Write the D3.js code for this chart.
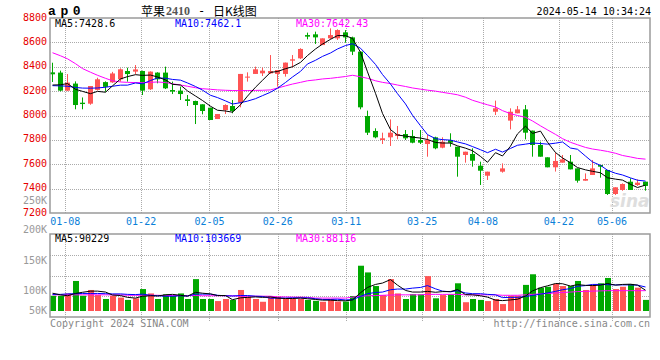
<!DOCTYPE html>
<html><head><meta charset="utf-8">
<script src="https://cdn.jsdelivr.net/npm/d3@7"></script>
<style>body{margin:0;background:#fff}svg{display:block}</style>
</head><body><svg id="c" width="660" height="360"></svg>
<script>
// ---------- data ----------
const symbol = "ap0";
const titleParts = ["苹果", "2410", "-", "日K线图"];
const stamp = "2024-05-14 10:34:24";
const priceTicks = [8800,8600,8400,8200,8000,7800,7600,7400,7200];
const volTickValues = [250000,200000,150000,100000,50000];
const volTickLabels = ["250K","200K","150K","100K","50K"];
const dateTicks = ["01-08","01-22","02-05","02-26","03-11","03-25","04-08","04-22","05-06"];
const dateTickIndex = [2,12,21,30,39,49,57,67,74];

const open = [8354,8352,8204,8262,8105,8097,8210,8274,8272,8297,
 8365,8360,8365,8215,8352,8352,8209,8204,8133,8119,
 8092,8064,7971,8045,8078,8105,8316,8341,8346,8346,
 8341,8341,8450,8469,8660,8666,8578,8633,8633,8682,
 8641,8524,7996,7873,7799,7821,7832,7848,7832,7799,
 7766,7821,7736,7799,7744,7676,7684,7588,7506,8031,
 7539,7958,8018,8050,7876,7758,7657,7575,7613,7621,
 7566,7465,7512,7594,7553,7356,7389,7457,7430,7457];
const high = [8433,8368,8340,8280,8148,8242,8310,8280,8358,8387,
 8392,8414,8368,8362,8355,8401,8278,8237,8168,8122,
 8092,8064,8012,8092,8127,8341,8354,8401,8393,8496,
 8373,8434,8496,8552,8680,8688,8633,8715,8707,8701,
 8647,8524,8040,7895,7859,7968,7914,7881,7881,7881,
 7840,7826,7821,7854,7744,7703,7731,7621,7539,8122,
 7607,8059,8078,8086,7876,7785,7657,7695,7676,7676,
 7566,7525,7635,7594,7553,7411,7443,7485,7476,7457];
const low = [8275,8198,8200,8051,8051,8088,8205,8195,8268,8278,
 8278,8338,8168,8210,8264,8217,8176,8127,8078,7930,
 8010,7963,7971,8012,8018,8067,8278,8341,8324,8341,
 8237,8319,8395,8463,8625,8587,8578,8625,8620,8597,
 8496,8051,7840,7813,7766,7750,7805,7799,7772,7766,
 7662,7723,7731,7744,7498,7613,7580,7430,7471,8004,
 7531,7886,8018,7804,7662,7662,7575,7540,7613,7558,
 7449,7465,7512,7490,7348,7348,7383,7389,7422,7383];
const close = [8338,8204,8270,8086,8094,8242,8297,8235,8345,8379,
 8340,8378,8204,8360,8297,8223,8196,8176,8119,8086,
 8037,7963,8012,8086,8037,8341,8319,8379,8368,8365,
 8373,8434,8461,8546,8647,8641,8633,8660,8701,8641,
 8524,8067,7859,7821,7813,7859,7848,7813,7777,7777,
 7799,7731,7785,7777,7662,7703,7629,7547,7539,8059,
 7566,8031,8050,7859,7758,7662,7575,7627,7640,7558,
 7465,7479,7566,7580,7356,7411,7438,7389,7449,7422];
const volume = [66,66,76,130,66,91,69,52,66,58,
 48,55,95,76,52,72,66,76,52,138,
 52,52,43,52,48,91,62,52,40,62,
 62,52,52,52,48,44,40,52,41,41,
 65,196,167,108,69,138,76,52,73,72,
 151,55,69,72,120,38,52,48,43,52,
 30,66,66,113,159,101,105,117,108,108,
 130,91,113,120,143,95,105,117,101,48].map(v => v * 1000);

const ma5 = [8250,8252,8262,8215,8198,8179,8198,8191,8243,8300,
 8319,8335,8329,8332,8316,8292,8256,8250,8202,8160,
 8123,8076,8043,8037,8027,8088,8159,8232,8289,8354,
 8361,8384,8400,8436,8492,8546,8586,8625,8656,8655,
 8632,8519,8358,8182,8017,7884,7840,7831,7822,7815,
 7803,7779,7774,7774,7751,7732,7711,7664,7616,7695,
 7668,7748,7849,7913,7853,7872,7781,7696,7652,7612,
 7573,7554,7542,7530,7489,7478,7470,7435,7409,7429];
const ma10 = [8245,8243,8240,8230,8225,8224,8226,8232,8240,8249,
 8249,8267,8260,8287,8308,8306,8296,8290,8267,8238,
 8208,8166,8147,8120,8094,8105,8118,8138,8163,8191,
 8224,8271,8316,8362,8423,8453,8485,8513,8546,8574,
 8589,8552,8492,8419,8336,8258,8179,8095,8002,7916,
 7843,7810,7802,7798,7783,7767,7745,7719,7695,7723,
 7700,7730,7756,7765,7774,7770,7765,7773,7783,7733,
 7723,7667,7619,7591,7551,7526,7512,7488,7469,7462];
const ma30 = [8515,8490,8465,8425,8385,8355,8330,8305,8285,8275,
 8272,8270,8270,8272,8275,8270,8260,8250,8240,8228,
 8220,8215,8210,8207,8205,8204,8205,8206,8207,8210,
 8225,8243,8258,8272,8285,8292,8300,8305,8312,8320,
 8330,8318,8305,8285,8272,8262,8250,8238,8226,8216,
 8208,8200,8190,8180,8170,8150,8125,8105,8088,8070,
 8040,8015,8000,7985,7955,7915,7882,7845,7810,7780,
 7760,7738,7725,7715,7705,7690,7672,7660,7648,7642];
const volMa5 = [77,70,66,76,81,86,86,82,69,67,
 59,56,64,66,65,70,72,68,64,81,
 77,74,67,67,49,57,59,61,59,61,
 56,54,54,56,53,50,47,47,45,44,
 48,79,102,115,121,136,112,89,82,82,
 85,81,84,84,93,71,70,66,60,47,
 45,48,51,65,87,101,109,119,118,108,
 114,111,110,112,119,112,115,116,112,90].map(v => v * 1000);
const volMa10 = [72,72,74,75,76,76,76,75,74,74,
 72,71,73,68,66,64,64,66,65,73,
 73,73,68,66,65,67,67,64,63,55,
 56,56,57,57,57,53,50,50,51,48,
 49,63,75,80,82,92,95,95,99,102,
 110,96,86,83,88,78,75,75,72,70,
 58,59,59,63,67,73,78,85,92,97,
 107,110,115,115,114,113,113,113,112,104].map(v => v * 1000);
const volMa30 = [70,70,70,70,70,70,70,70,70,70,
 68,68,68,68,68,67,67,67,67,67,
 66,66,66,66,66,64,64,64,64,64,
 61,61,60,60,59,56,56,56,56,56,
 60,64,66,67,68,69,70,70,70,70,
 72,72,72,72,72,70,70,70,70,70,
 68,68,68,70,72,74,76,78,80,82,
 84,85,86,87,88,88,88,88,88,88].map(v => v * 1000);

const legendMain = [["MA5:7428.6","#000"],["MA10:7462.1","#0000ff"],["MA30:7642.43","#ff00ff"]];
const legendVol = [["MA5:90229","#000"],["MA10:103669","#0000ff"],["MA30:88116","#ff00ff"]];
const footerLeft = "Copyright 2024 SINA.COM";
const footerRight = "http://finance.sina.com.cn";

// ---------- layout ----------
const L = 50, R = 650, mTop = 18, mBot = 213, vTop = 234, vBot = 317, vBase = 311;
const mono = "'DejaVu Sans Mono', monospace";
const UP = "#ff5454", DOWN = "#00a800", GRID = "#aaaaaa", FRAME = "#9a9a9a";
const n = close.length;

const svg = d3.select("#c");
svg.append("rect").attr("width",660).attr("height",360).attr("fill","#fff");

const x = d3.scaleBand().domain(d3.range(n)).range([L, R]);
const xt = d3.scaleLinear().domain([0, n - 1]).range([L, R]);
const y = d3.scaleLinear().domain([7200, 8800]).range([mBot, mTop]);
const yv = d3.scaleLinear().domain([0, 100000]).range([vBase, 287.9]);
const yvLab = d3.scaleLinear().domain(volTickValues).range([200, 229.3, 260.8, 290.8, 310.8]);
const cx = i => Math.round(x(i)) + 2.5;

const defs = svg.append("defs");
defs.append("clipPath").attr("id","cm").append("rect").attr("x",L).attr("y",mTop).attr("width",R-L).attr("height",mBot-mTop);
defs.append("clipPath").attr("id","cv").append("rect").attr("x",L).attr("y",vTop).attr("width",R-L).attr("height",vBot-vTop);

// ---------- grid ----------
const grid = svg.append("g").attr("stroke", GRID).attr("stroke-dasharray","1,1").attr("stroke-width",1);
priceTicks.slice(1, -1).forEach(v => {
  const yy = Math.round(y(v)) + 0.5;
  grid.append("line").attr("x1",L).attr("x2",R).attr("y1",yy).attr("y2",yy);
});
d3.range(1,4).forEach(j => {
  const yy = Math.round(vTop + (vBot - vTop) * j / 4) + 0.5;
  grid.append("line").attr("x1",L).attr("x2",R).attr("y1",yy).attr("y2",yy);
});
dateTickIndex.forEach(k => {
  const xx = Math.round(xt(k)) + 0.5;
  grid.append("line").attr("x1",xx).attr("x2",xx).attr("y1",mTop).attr("y2",mBot);
  grid.append("line").attr("x1",xx).attr("x2",xx).attr("y1",vTop).attr("y2",vBot + 5);
});

// sina watermark
svg.append("text").attr("x",610).attr("y",207).attr("font-family","'DejaVu Sans', sans-serif")
  .attr("font-style","italic").attr("font-weight","bold").attr("font-size",17)
  .attr("fill","#dedede").text("sina");

// ---------- candles ----------
const gc = svg.append("g").attr("clip-path","url(#cm)");
d3.range(n).forEach(i => {
  const col = close[i] >= open[i] ? UP : DOWN;
  gc.append("line").attr("x1",cx(i)).attr("x2",cx(i))
    .attr("y1",y(high[i])).attr("y2",y(low[i])).attr("stroke",col).attr("stroke-width",1);
  const top = y(Math.max(open[i], close[i])), bot = y(Math.min(open[i], close[i]));
  gc.append("rect").attr("x",Math.round(x(i))).attr("width",5)
    .attr("y",top).attr("height",Math.max(1, bot - top)).attr("fill",col);
});

// ---------- MA lines (price) ----------
const lineP = d3.line().x((d,i) => cx(i)).y(d => y(d));
[[ma30,"#ff00ff"],[ma10,"#0000ff"],[ma5,"#000"]].forEach(([arr,col]) => {
  gc.append("path").attr("d", lineP(arr)).attr("fill","none").attr("stroke",col).attr("stroke-width",1);
});

// ---------- volume ----------
const gv = svg.append("g").attr("clip-path","url(#cv)");
d3.range(n).forEach(i => {
  const col = close[i] >= open[i] ? UP : DOWN;
  gv.append("rect").attr("x",Math.round(x(i))).attr("width",6)
    .attr("y",yv(volume[i])).attr("height",vBase - yv(volume[i])).attr("fill",col);
});
const lineV = d3.line().x((d,i) => cx(i)).y(d => yv(d));
[[volMa30,"#ff00ff"],[volMa10,"#0000ff"],[volMa5,"#000"]].forEach(([arr,col]) => {
  gv.append("path").attr("d", lineV(arr)).attr("fill","none").attr("stroke",col).attr("stroke-width",1);
});

// ---------- frames ----------
svg.append("rect").attr("x",L).attr("y",mTop).attr("width",R-L).attr("height",mBot-mTop)
  .attr("fill","none").attr("stroke",FRAME).attr("stroke-width",1.5);
svg.append("rect").attr("x",L).attr("y",vTop).attr("width",R-L).attr("height",vBot-vTop)
  .attr("fill","none").attr("stroke",FRAME).attr("stroke-width",1.5);

// ---------- axis labels ----------
const txt = (g, t, xx, yy, col, anchor, size) => g.append("text").attr("x",xx).attr("y",yy)
  .attr("font-family",mono).attr("font-size",size || 10).attr("fill",col)
  .attr("text-anchor",anchor || "start").attr("dominant-baseline","central").text(t);

priceTicks.forEach(v => txt(svg, String(v), 47, y(v) - 1, "#e60000", "end"));
volTickValues.forEach((v,j) => txt(svg, volTickLabels[j], 47, yvLab(v), "#999", "end"));
dateTicks.forEach((t,j) => txt(svg, t, xt(dateTickIndex[j]), 221, "#0a80d8", "middle"));

// legends
const legX = [55, 175, 296];
legendMain.forEach(([t,c],j) => txt(svg, t, legX[j], 23.7, c));
legendVol.forEach(([t,c],j) => txt(svg, t, legX[j], 238.5, c));

// header
svg.append("text").attr("x",48).attr("y",11).attr("dominant-baseline","central")
  .attr("font-family","'Liberation Mono', monospace").attr("font-weight","bold").attr("font-size",13)
  .attr("letter-spacing",4.6).attr("fill","#000").text(symbol);
const titleX = [141, 166, 198, 213];
const titleFont = ["'Noto Sans CJK SC', sans-serif", "'Liberation Serif', serif", mono, "'Noto Sans CJK SC', sans-serif"];
const titleCol = ["#000", "#555", "#000", "#000"];
titleParts.forEach((t,j) => {
  svg.append("text").attr("x",titleX[j]).attr("y",10.5).attr("dominant-baseline","central")
    .attr("font-family",titleFont[j]).attr("font-size",12)
    .attr("font-weight", j === 1 ? "bold" : "normal").attr("fill",titleCol[j]).text(t);
});
txt(svg, stamp, 651, 11, "#000", "end");

// footer
txt(svg, footerLeft, 50, 323.8, "#888");
txt(svg, footerRight, 650, 323.8, "#888", "end");
</script></body></html>
